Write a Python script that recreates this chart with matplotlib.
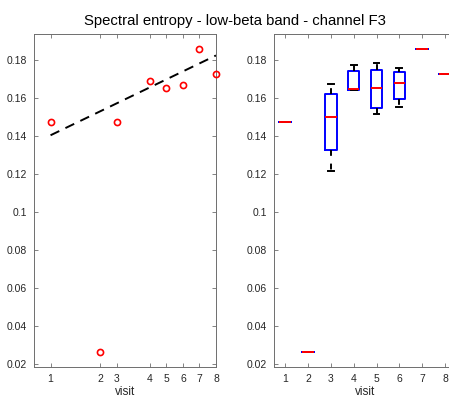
import matplotlib
matplotlib.use('Agg')
import matplotlib.pyplot as plt
from matplotlib.ticker import FuncFormatter

plt.rcParams['font.family'] = ['Liberation Sans', 'DejaVu Sans']

# Spectral entropy per visit, low-beta band, channel F3
visits = [1, 2, 3, 4, 5, 6, 7, 8]
visit_time = [1, 4, 5, 7, 8, 9, 10, 11]   # visit spacing on the time axis
mean_entropy = [0.1473, 0.0265, 0.1475, 0.1690, 0.1653, 0.1668, 0.1860, 0.1730]

# linear trend across visits
trend_slope = 0.0042
trend_intercept = 0.1363

# box summaries per visit
whis_lo = [0.1473, 0.0265, 0.1218, 0.1644, 0.1519, 0.1554, 0.1860, 0.1730]
q1 = [0.1473, 0.0265, 0.1325, 0.1644, 0.1551, 0.1596, 0.1860, 0.1730]
median = [0.1473, 0.0265, 0.1500, 0.1649, 0.1653, 0.1681, 0.1860, 0.1730]
q3 = [0.1473, 0.0265, 0.1623, 0.1744, 0.1749, 0.1739, 0.1860, 0.1730]
whis_hi = [0.1473, 0.0265, 0.1674, 0.1775, 0.1784, 0.1758, 0.1860, 0.1730]

yticks = [0.02, 0.04, 0.06, 0.08, 0.1, 0.12, 0.14, 0.16, 0.18]
YLIM = (0.0187, 0.1938)
AX_COL = '#262626'


def style_axes(ax):
    for s in ax.spines.values():
        s.set_color('#6e6e6e')
        s.set_linewidth(0.7)
    ax.tick_params(direction='in', top=True, right=True, length=3, width=0.6,
                   colors='#6e6e6e', labelcolor=AX_COL, labelsize=7.5, pad=5)
    ax.set_yticks(yticks)
    ax.yaxis.set_major_formatter(FuncFormatter(lambda v, p: f'{v:g}'))
    ax.set_ylim(*YLIM)
    ax.set_xlabel('visit', fontsize=8.5, color=AX_COL, labelpad=2)


fig = plt.figure(figsize=(4.49, 3.98), dpi=100)
ax1 = fig.add_axes([0.0757, 0.0786, 0.4053, 0.836])
ax2 = fig.add_axes([0.6096, 0.0786, 0.407, 0.836])

# left: visit means with trend line
t0, t1 = visit_time[0], visit_time[-1]
ax1.plot([t0, t1], [trend_intercept + trend_slope * t0, trend_intercept + trend_slope * t1],
         color='black', linestyle=(0, (5, 3.5)), linewidth=1.4)
ax1.plot(visit_time, mean_entropy, 'o', mfc='none', mec='red', mew=1.2, ms=4.4,
         clip_on=False, zorder=3)
ax1.set_xticks(visit_time)
ax1.set_xticklabels([str(v) for v in visits])
ax1.set_xlim(0, 11)
style_axes(ax1)

# right: box plot per visit
stats = [dict(whislo=a, q1=b, med=c, q3=d, whishi=e, label=str(v))
         for v, a, b, c, d, e in zip(visits, whis_lo, q1, median, q3, whis_hi)]
ax2.bxp(stats, positions=visits, widths=0.5, showfliers=False, capwidths=0.25,
        boxprops=dict(color='blue', linewidth=1.4),
        medianprops=dict(color='red', linewidth=1.4),
        whiskerprops=dict(color='black', linewidth=1.4, linestyle=(0, (3, 4))),
        capprops=dict(color='black', linewidth=1.4))
ax2.set_xlim(0.5, 8.5)
ax2.set_xticks(visits)
ax2.set_xticklabels([str(v) for v in visits])
style_axes(ax2)

fig.text(0.523, 0.947, 'Spectral entropy - low-beta band - channel F3',
         ha='center', va='center', fontsize=10.7, color='black')

fig.savefig('out.png', dpi=100)
